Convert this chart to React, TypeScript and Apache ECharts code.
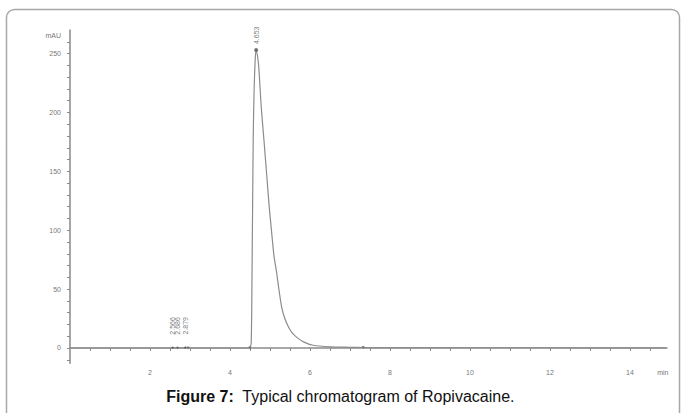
import React, { useEffect, useRef } from "react";
import * as echarts from "echarts";

// Chromatogram signal (time in min, absorbance in mAU)
const times = [0, 2.5, 2.566, 2.62, 2.686, 2.75, 2.879, 2.95, 4.45, 4.5, 4.53, 4.55, 4.58, 4.6, 4.63, 4.653, 4.7, 4.73, 4.78, 4.85, 4.92, 4.98, 5.05, 5.1, 5.17, 5.23, 5.29, 5.37, 5.46, 5.55, 5.67, 5.85, 6.08, 6.5, 7.0, 7.33, 8, 10, 12, 14.9];
const signal = [0, 0, 0.3, 0, 0.3, 0, 0.4, 0, 0, 1, 4, 60, 177, 215, 245, 253, 245, 233, 205, 176, 146, 120, 95, 78, 63, 48, 35, 25, 18, 13, 9, 5, 2.3, 1, 0.6, 0.4, 0.3, 0.2, 0.2, 0.1];

// Labelled peaks
const peakTimes = [2.566, 2.686, 2.879, 4.653];
const peakHeights = [0.3, 0.3, 0.4, 253];

// Integration marks
const markTimes = [4.5, 7.33, 2.95];
const markValues = [0, 0.4, 0];

// Axis ticks / labels
const xLabelValues = [2, 4, 6, 8, 10, 12, 14];
const xTickValues = [0.5, 1, 1.5, 2, 2.5, 3, 3.5, 4, 4.5, 5, 5.5, 6, 6.5, 7, 7.5, 8, 8.5, 9, 9.5, 10, 10.5, 11, 11.5, 12, 12.5, 13, 13.5, 14, 14.5];
const yLabelValues = [0, 50, 100, 150, 200, 250];
const yTickValues = [-10, 0, 10, 20, 30, 40, 50, 60, 70, 80, 90, 100, 110, 120, 130, 140, 150, 160, 170, 180, 190, 200, 210, 220, 230, 240, 250, 260];

const xUnit = "min";
const yUnit = "mAU";
const captionBold = "Figure 7:";
const captionText = "Typical chromatogram of Ropivacaine.";

export default function App() {
  const ref = useRef<HTMLDivElement>(null);
  useEffect(() => {
    if (!ref.current) return;
    const chart = echarts.init(ref.current, null, { renderer: "svg" });
    const axisColor = "#8a8a8a";
    const labelColor = "#777";
    chart.setOption({
      animation: false,
      backgroundColor: "#fff",
      textStyle: { fontFamily: "Liberation Sans, Arial, sans-serif" },
      grid: { left: 70, right: 14, top: 30, bottom: 49.7, containLabel: false },
      xAxis: {
        type: "value",
        min: 0,
        max: 14.925,
        splitLine: { show: false },
        axisLine: { show: true, lineStyle: { color: axisColor, width: 1.5 } },
        axisTick: { show: true, length: 3, customValues: xTickValues, lineStyle: { color: axisColor } },
        axisLabel: {
          customValues: [...xLabelValues, 14.82],
          formatter: (v: number) => (Math.abs(v - 14.82) < 1e-6 ? xUnit : String(v)),
          color: labelColor,
          fontSize: 7,
          margin: 6,
        },
      },
      yAxis: {
        type: "value",
        min: -13,
        max: 270,
        splitLine: { show: false },
        axisLine: { show: true, lineStyle: { color: axisColor, width: 1.5 } },
        axisTick: { show: true, length: 3, customValues: yTickValues, lineStyle: { color: axisColor } },
        axisLabel: {
          customValues: [...yLabelValues, 265.5],
          formatter: (v: number) => (Math.abs(v - 265.5) < 1e-6 ? yUnit : String(v)),
          color: labelColor,
          fontSize: 7,
          margin: 9,
        },
      },
      series: [
        {
          type: "line",
          data: times.map((t, i) => [t, signal[i]]),
          showSymbol: false,
          smooth: 0.25,
          lineStyle: { color: "#8c8c8c", width: 1.2 },
          z: 2,
        },
        {
          type: "scatter",
          data: peakTimes.map((t, i) => ({
            value: [t, peakHeights[i]],
            label: { distance: peakHeights[i] > 100 ? 4 : 12 },
          })),
          symbol: "circle",
          symbolSize: (v: number[]) => (v[1] > 100 ? 4 : 2),
          itemStyle: { color: "#555" },
          label: {
            show: true,
            position: "top",
            rotate: 90,
            align: "left",
            verticalAlign: "middle",
            formatter: (p: any) => p.value[0].toFixed(3),
            color: "#555",
            fontSize: 7,
          },
          z: 3,
        },
        {
          type: "scatter",
          data: markTimes.map((t, i) => [t, markValues[i]]),
          symbol: "triangle",
          symbolRotate: 180,
          symbolSize: 3,
          itemStyle: { color: "#666" },
          z: 3,
        },
      ],
      graphic: [
        {
          type: "rect",
          shape: { x: 6.5, y: 9.5, width: 673, height: 440, r: 8 },
          style: { fill: "none", stroke: "#a8a8a8", lineWidth: 1.5 },
          silent: true,
          z: 0,
        },
        {
          type: "text",
          left: "center",
          top: 388,
          style: {
            text: "{b|" + captionBold + "}  " + captionText,
            font: "16px Liberation Sans, Arial, sans-serif",
            fill: "#111",
            rich: {
              b: { fontWeight: "bold", fontSize: 16, fontFamily: "Liberation Sans, Arial, sans-serif", fill: "#111" },
            },
          },
        },
      ],
    });
    return () => chart.dispose();
  }, []);
  return (
    <div
      ref={ref}
      style={{ position: "fixed", left: 0, top: 0, width: 681, height: 413 }}
    />
  );
}
